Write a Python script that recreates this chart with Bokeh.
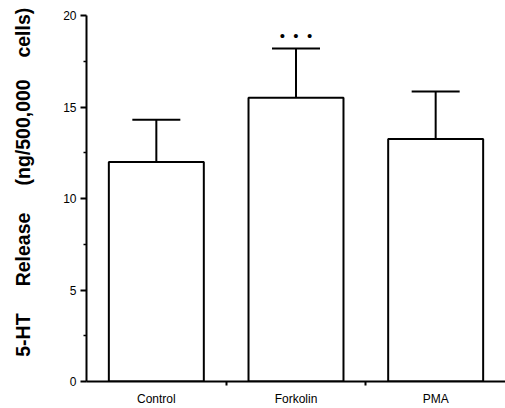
from bokeh.plotting import figure
from bokeh.models import (ColumnDataSource, FixedTicker, Whisker, TeeHead, Range1d)
from bokeh.core.properties import value
from bokeh.embed import file_html
from bokeh.resources import INLINE

# ---- data ----
categories = ["Control", "Forkolin", "PMA"]
release = [12.0, 15.5, 13.25]
sem = [2.3, 2.7, 2.6]
significance = ["", "\u2022\u00a0\u00a0\u2022\u00a0\u00a0\u2022", ""]
y_ticks = [0, 5, 10, 15, 20]
y_minor = [2.5, 7.5, 12.5, 17.5]
y_title = "5-HT\u00a0\u00a0\u00a0\u00a0\u00a0Release\u00a0\u00a0\u00a0\u00a0\u00a0(ng/500,000\u00a0\u00a0\u00a0\u00a0cells)"

xs = [i + 0.5 for i in range(len(categories))]
uppers = [r + s for r, s in zip(release, sem)]
src = ColumnDataSource(dict(x=xs, top=release, upper=uppers, sig=significance))

FONT = "Liberation Sans"

p = figure(width=505, height=408, output_backend="svg", toolbar_location=None,
           x_range=Range1d(0, 3), y_range=Range1d(0, 20),
           min_border_left=86, min_border_right=0, min_border_top=15, min_border_bottom=24)
p.outline_line_color = None
p.xgrid.grid_line_color = None
p.ygrid.grid_line_color = None
p.background_fill_color = "white"
p.border_fill_color = "white"

p.vbar(x="x", top="top", bottom=0, width=0.68, source=src,
       fill_color="white", line_color="black", line_width=2)

wh = Whisker(base="x", lower="top", upper="upper", source=src,
             upper_head=TeeHead(size=48, line_width=2, line_color="black"),
             lower_head=None, line_color="black", line_width=2, level="overlay")
p.add_layout(wh)

p.text(x="x", y="upper", text="sig", source=src, text_align="center",
       text_baseline="alphabetic", y_offset=-13, text_font=value(FONT),
       text_font_size="15px", text_color="black")

# x axis
p.xaxis.ticker = FixedTicker(ticks=xs, minor_ticks=[1, 2])
p.xaxis.major_label_overrides = {x: c for x, c in zip(xs, categories)}
p.xaxis.major_tick_out = 0
p.xaxis.major_tick_in = 0
p.xaxis.minor_tick_out = 4
p.xaxis.minor_tick_in = 0
p.xaxis.minor_tick_line_width = 2
p.xaxis.axis_line_width = 2
p.xaxis.major_label_standoff = 6
p.xaxis.major_label_text_font = FONT
p.xaxis.major_label_text_font_size = "12px"
p.xaxis.major_label_text_color = "black"

# y axis
p.yaxis.ticker = FixedTicker(ticks=y_ticks, minor_ticks=y_minor)
p.yaxis.major_tick_out = 6
p.yaxis.major_tick_in = 0
p.yaxis.minor_tick_out = 3
p.yaxis.minor_tick_in = 0
p.yaxis.major_tick_line_width = 2
p.yaxis.minor_tick_line_width = 1.5
p.yaxis.axis_line_width = 2
p.yaxis.major_label_standoff = 4
p.yaxis.major_label_text_font = FONT
p.yaxis.major_label_text_font_size = "12px"
p.yaxis.major_label_text_color = "black"

p.yaxis.axis_label = "\u00a0" * 6 + y_title
p.yaxis.axis_label_text_font = FONT
p.yaxis.axis_label_text_font_size = "19.5px"
p.yaxis.axis_label_text_font_style = "bold"
p.yaxis.axis_label_text_color = "black"
p.yaxis.axis_label_standoff = 26

open("out.html", "w").write(file_html(p, INLINE))
